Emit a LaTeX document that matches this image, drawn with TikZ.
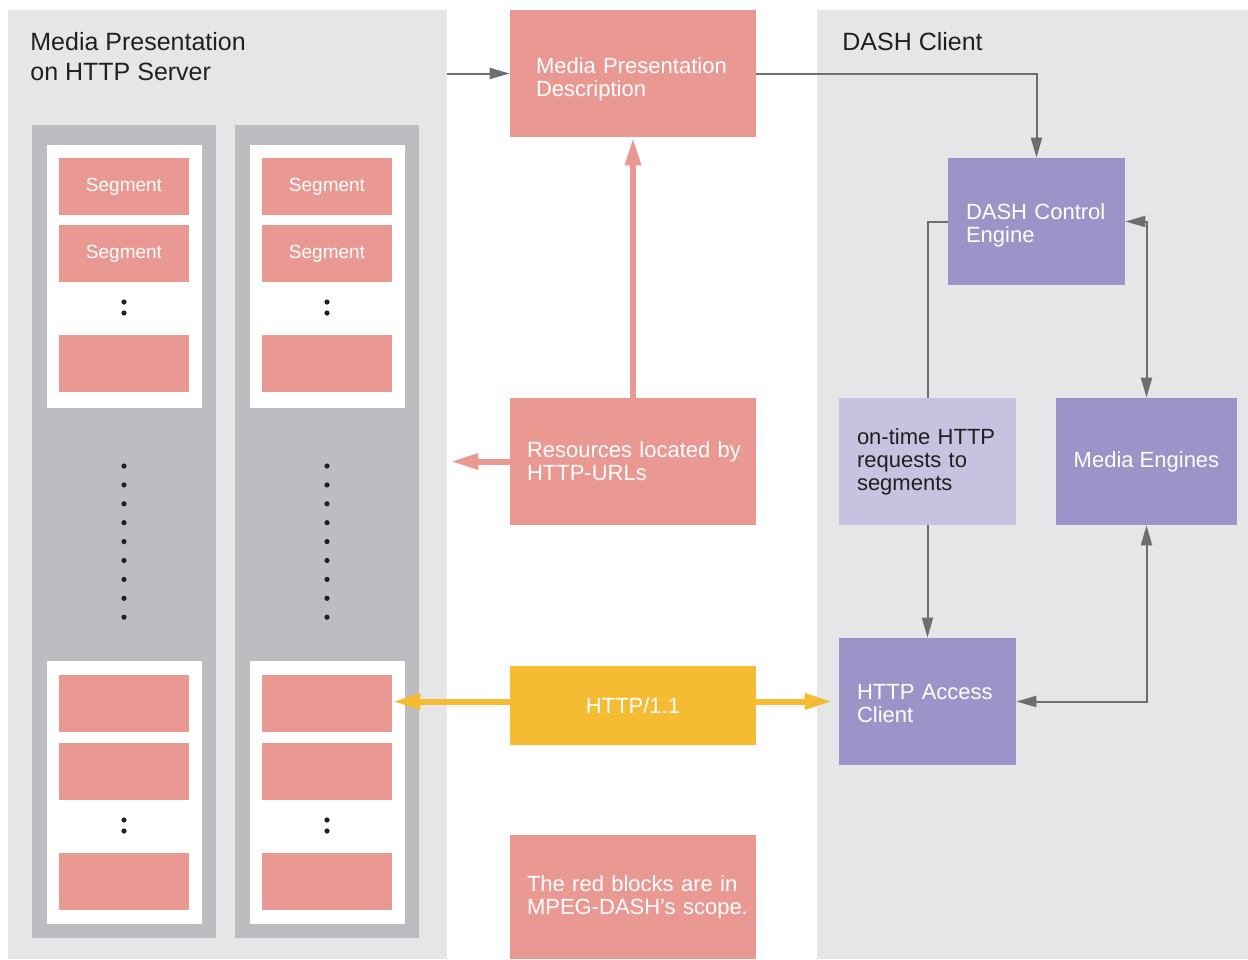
\documentclass[tikz,border=0pt]{standalone}
\usepackage{fontspec}
\setmainfont{Liberation Sans}
\usetikzlibrary{arrows.meta}
\definecolor{panelgray}{HTML}{E5E6E8}
\definecolor{colgray}{HTML}{BCBDC1}
\definecolor{dashred}{HTML}{E99892}
\definecolor{httpyellow}{HTML}{F5BC33}
\definecolor{clientviolet}{HTML}{9B94C8}
\definecolor{lightviolet}{HTML}{C6C3E1}
\definecolor{linegray}{HTML}{6D6E71}
\definecolor{inkdark}{HTML}{231F20}

\begin{document}
\begin{tikzpicture}[x=0.5pt,y=-0.5pt,
		panel/.style={fill=panelgray,inner sep=0pt},
		column/.style={fill=colgray,inner sep=0pt,minimum width=92pt,minimum height=406.5pt},
		holder/.style={fill=white,inner sep=0pt,minimum width=77.5pt,minimum height=131.5pt},
		segment/.style={fill=dashred,text=white,inner sep=0pt,minimum width=65pt,minimum height=28.5pt,font=\fontsize{9.5}{11}\selectfont},
		heading/.style={text=inkdark,inner sep=0pt,align=left,font=\fontsize{12.5}{15}\selectfont},
		redbox/.style={fill=dashred,text=white,minimum width=123pt,minimum height=63.5pt,inner xsep=8.5pt,text width=106pt,align=left,font=\fontsize{11}{11.5}\selectfont},
		clientbox/.style={fill=clientviolet,text=white,minimum width=88.5pt,minimum height=63.5pt,inner xsep=9pt,font=\fontsize{11}{11.5}\selectfont},
		leftbox/.style={clientbox,text width=70.5pt,align=left},
		link/.style={draw=linegray,line width=1pt,-{Triangle[length=10pt,width=5.5pt]}},
		both/.style={link,{Triangle[length=10pt,width=5.5pt]}-{Triangle[length=10pt,width=5.5pt]}},
		fat/.style={draw=dashred,line width=3pt,-{Triangle[length=14pt,width=7.5pt]}}]
	\fill[white] (0,0) rectangle (1248,959);
	\useasboundingbox (0,0) rectangle (1248,959);
	\node[panel,minimum width=219.5pt,minimum height=474.5pt] (server) at (227.5,484.5) {};
	\node[panel,minimum width=215.5pt,minimum height=474.5pt] (client) at (1032.5,484.5) {};
	\node[heading,anchor=base west] (servertitle) at (30,80) {Media Presentation\\on HTTP Server};
	\node[heading,anchor=base west] (clienttitle) at (842,50) {DASH Client};
	\foreach \cx/\n in {124/1,327/2}{
		\node[column] (col-\n) at (\cx,531.5) {};
		\node[holder] (top-\n) at (\cx,276) {};
		\node[holder] (bot-\n) at (\cx,792.5) {};
		\node[segment] (seg-\n-a) at (\cx,186.5) {Segment};
		\node[segment] (seg-\n-b) at (\cx,253.5) {Segment};
		\node[segment] (seg-\n-c) at (\cx,363.5) {};
		\node[segment] (seg-\n-d) at (\cx,703.5) {};
		\node[segment] (seg-\n-e) at (\cx,771.5) {};
		\node[segment] (seg-\n-f) at (\cx,881.5) {};
		\foreach \dy in {302,313,820,831}
			\fill[inkdark] (\cx,\dy) circle (1.3pt);
		\foreach \i in {0,...,8}
			\fill[inkdark] (\cx,{466+18.9*\i}) circle (1.3pt);
	}
	\node[redbox,inner xsep=13pt,text width=97pt] (mpd) at (633,73.5) {\rule{0pt}{14pt}\mbox{Media Presentation}\\Description};
	\node[redbox] (res) at (633,461.5) {\mbox{Resources located by}\\\mbox{HTTP-URLs}};
	\node[redbox,fill=httpyellow,align=center,minimum height=39.5pt] (http) at (633,705.5) {HTTP/1.1};
	\node[redbox,minimum height=62pt] (scope) at (633,897) {\mbox{The red blocks are in}\\\mbox{MPEG-DASH’s scope.}};
	\node[leftbox] (dce) at (1036.5,221.5) {\rule{0pt}{12pt}\mbox{DASH Control}\\Engine};
	\node[leftbox,fill=lightviolet,text=inkdark] (ontime) at (927.5,461.5) {\mbox{on-time HTTP}\\\mbox{requests to}\\segments};
	\node[clientbox,align=center] (media) at (1146.5,461.5) {Media Engines};
	\node[leftbox] (access) at (927.5,701.5) {\rule{0pt}{10pt}\mbox{HTTP Access}\\Client};
	\draw[link] (server.east |- mpd.west) -- (mpd.west);
	\draw[link] (mpd.east) -| (dce.north);
	\draw[link,-] (dce.west) -| (ontime.north);
	\draw[link] (ontime.south) -- (access.north);
	\draw[both] (dce.east) -| (media.north);
	\draw[both] (access.east) -| (media.south);
	\draw[fat] (res.north) -- (mpd.south);
	\draw[fat,shorten >=1.5pt] (res.west) -- (res.west -| server.east);
	\draw[fat,draw=httpyellow] (http.west |- access.west) -- (seg-2-d.east |- access.west);
	\draw[fat,draw=httpyellow,shorten >=3pt] (http.east |- access.west) -- (access.west);
\end{tikzpicture}
\end{document}
